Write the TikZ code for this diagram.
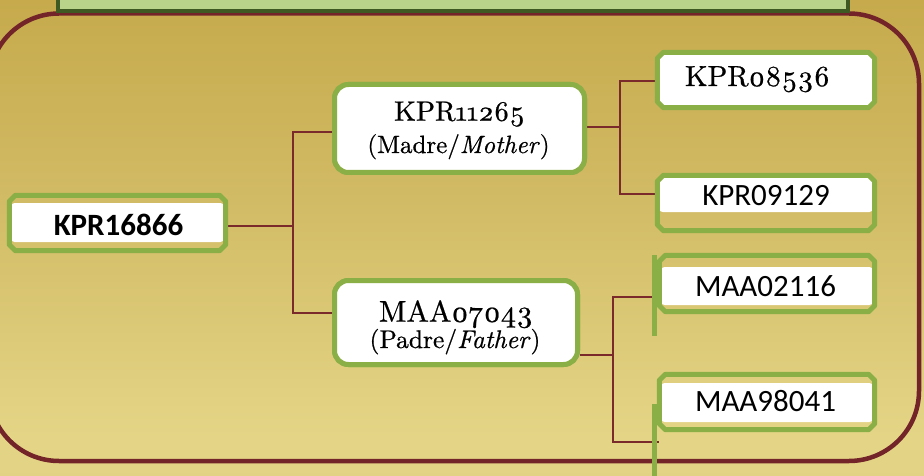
\documentclass[tikz,border=0pt]{standalone}
\usepackage{fontspec}
\usepackage{graphicx}
\newfontfamily\calibri{Carlito}
\newfontfamily\lmten[ItalicFont=lmroman10-italic.otf, FakeBold=0.7, Numbers=OldStyle]{lmroman10-regular.otf}
\usetikzlibrary{calc}
\definecolor{maroon}{HTML}{722428}
\definecolor{conncol}{HTML}{7A2A2A}
\definecolor{leafgreen}{HTML}{8BAF47}
\definecolor{titlegreen}{HTML}{B9D38A}
\definecolor{titledark}{HTML}{3E5A22}
\definecolor{bgA}{HTML}{DDCA7C}
\definecolor{bgB}{HTML}{DBC778}
\definecolor{bgC}{HTML}{E4D586}
\definecolor{bgD}{HTML}{D1BA64}
\definecolor{bgE}{HTML}{C6AA4C}
\definecolor{bgF}{HTML}{D4BE6A}
\pgfdeclareverticalshading{bgshade}{100bp}{color(0bp)=(bgA); color(7bp)=(bgB); color(29bp)=(bgC); color(55bp)=(bgD); color(75bp)=(bgE); color(100bp)=(bgF)}
\newcommand\osf[2]{#2}
\newcommand\chamframe[1]{\draw[leafline] ([xshift=6pt]#1.north west) -- ([xshift=-6pt]#1.north east) -- ([yshift=-6pt]#1.north east) -- ([yshift=6pt]#1.south east) -- ([xshift=-6pt]#1.south east) -- ([xshift=6pt]#1.south west) -- ([yshift=6pt]#1.south west) -- ([yshift=-6pt]#1.north west) -- cycle;}
\tikzset{
  conn/.style={draw=conncol, line width=2pt},
  leafline/.style={draw=leafgreen, line width=5pt, line join=round},
  greenbar/.style={draw=leafgreen, line width=5pt},
  leafbox/.style n args={4}{rectangle, inner sep=0pt, minimum width=#1, minimum height=55pt,
    path picture={\fill[white, rounded corners=3pt] ([xshift=2pt,yshift=-#2]path picture bounding box.north west) rectangle ([xshift=-2pt,yshift=#3]path picture bounding box.south east);}},
  parentbox/.style={rectangle, rounded corners=14pt, draw=leafgreen, line width=5pt, fill=white, inner sep=0pt},
  sanstext/.style={anchor=base, inner sep=0pt, font=\calibri\fontsize{31}{34}\selectfont},
  seriftext/.style={anchor=base, inner sep=0pt},
}
\begin{document}
\begin{tikzpicture}[x=1pt,y=-1pt]
\useasboundingbox (0,0) rectangle (924,476);
\shade[shading=bgshade] (0,0) rectangle (924,476);
% outer frame
\draw[maroon, line width=4.5pt, rounded corners=70pt] (-11,13.5) rectangle (919,461);
% title box (cut off)
\draw[fill=titlegreen, draw=titledark, line width=3.5pt] (58,-10) rectangle (848,11);

% junctions
\coordinate (j1) at (293,226);
\coordinate (j2) at (620,127);
\coordinate (j3) at (613,355);

% nodes
\node[leafbox={216pt}{7.5pt}{8.5pt}{}] (k16866) at (117.5,223) {};
\node[parentbox, minimum width=250pt, minimum height=88pt] (k11265) at (459.5,128.5) {};
\node[parentbox, minimum width=243pt, minimum height=84pt] (m07043) at (456,322.5) {};
\node[leafbox={217pt}{2.5pt}{2.5pt}{}] (k08536) at (766,80) {};
\node[leafbox={217pt}{2.5pt}{18.5pt}{}] (k09129) at (766,203) {};
\node[leafbox={215pt}{11.5pt}{6.5pt}{}, minimum height=56pt] (m02116) at (767,283.5) {};
\node[leafbox={215pt}{8.5pt}{7.5pt}{}] (m98041) at (767,402) {};

% connectors
\draw[conn] (k16866.east |- j1) -- (j1);
\draw[conn] ([yshift=-3.5pt]k11265.west) -| (j1) |- ([yshift=9.5pt]m07043.west);
\draw[conn] (k11265.east |- j2) -- (j2);
\draw[conn] ([yshift=-1pt]k08536.west) -| (j2) |- ([yshift=9pt]k09129.west);
\draw[conn] (m07043.east |- j3) -- (j3);
\draw[conn] ([yshift=-13.5pt]m02116.west) -| (j3) |- ([yshift=-40pt]m98041.west);

% frames
\chamframe{k16866}
\chamframe{k08536}
\chamframe{k09129}
\chamframe{m02116}
\chamframe{m98041}
\node[parentbox, minimum width=250pt, minimum height=88pt] (k11265f) at (k11265.center) {};
\node[parentbox, minimum width=243pt, minimum height=84pt] (m07043f) at (m07043.center) {};

% green bars
\draw[greenbar] ([xshift=-5pt]m02116.north west) -- ([xshift=-5pt,yshift=-24.5pt]m02116.south west);
\draw[greenbar] ([xshift=-5pt,yshift=-2pt]m98041.west) -- ([xshift=-5pt,yshift=-60pt]m98041.south west);

% texts
\node[sanstext, font=\calibri\bfseries\fontsize{31}{34}\selectfont] (t16866) at (118.5,235) {KPR16866};
\node[seriftext, font=\lmten\fontsize{28}{30}\selectfont] (t11265) at (459.5,120.7) {KPR11265};
\node[seriftext, font=\lmten\fontsize{25}{28}\selectfont] (t11265b) at (458.5,153) {(Madre/\textit{Mother})};
\node[seriftext, font=\lmten\fontsize{30}{32}\selectfont] (t07043) at (456,321.7) {MAA07043};
\node[seriftext, font=\lmten\fontsize{25.5}{28}\selectfont] (t07043b) at (455,348) {(Padre/\textit{Father})};
\node[seriftext, font=\lmten\fontsize{29}{31}\selectfont] (t08536) at (757.5,86) {KPR08536};
\node[sanstext] (t09129) at (766,205) {KPR09129};
\node[sanstext] (t02116) at (765.5,296.7) {MAA02116};
\node[sanstext] (t98041) at (765.5,411.7) {MAA98041};
\end{tikzpicture}
\end{document}
